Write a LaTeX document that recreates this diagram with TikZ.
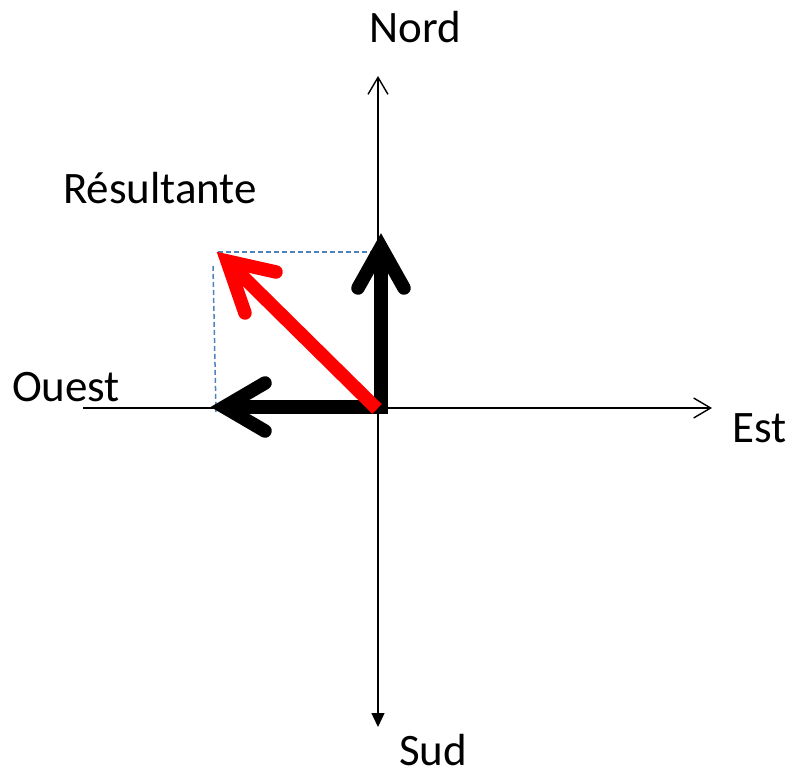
\documentclass[tikz,border=0pt]{standalone}
\usepackage{fontspec}
\setmainfont{Carlito}
\usetikzlibrary{arrows.meta}
\definecolor{dashblue}{RGB}{79,129,189}
\tikzset{
  axis/.style={line width=1.4pt},
  vec/.style={line width=13.5pt, line cap=round, line join=miter},
  lbl/.style={inner sep=0pt, anchor=center, font=\fontsize{45}{52}\selectfont},
  guide/.style={dashblue, line width=1.5pt, dash pattern=on 5pt off 3pt}
}
\begin{document}
\begin{tikzpicture}[x=1pt,y=-1pt]
\useasboundingbox (0,0) rectangle (807,778);
% axis end points
\coordinate (W) at (83,408);
\coordinate (E) at (712,408);
\coordinate (N) at (378,76);
\coordinate (S) at (378,727);
\coordinate (O) at (378,408);
% axes
\draw[axis, -{Straight Barb[length=17pt,width=20pt]}] (W) -- (E);
\draw[axis, -{Straight Barb[length=17pt,width=20pt]}] (S |- O) ++(0,5) coordinate (Sv) -- (N);
\draw[axis, -{Triangle[length=14pt,width=13pt]}] (Sv) -- (S);
% dashed guides
\coordinate (Rt) at (218,252);
\coordinate (Hd) at (392,252);
\coordinate (Va) at (213,266);
\coordinate (Vb) at (216,412);
\draw[guide] (Rt) -- (Hd);
\draw[guide] (Va) -- (Vb);
% black vectors
\coordinate (Nv) at (381,247);
\coordinate (Wv) at (224,407);
\coordinate (Cv) at (381,407);
\draw[vec, line cap=butt] (Wv) -- (Cv) -- (Nv);
\draw[vec] (358,288) -- (Nv) -- (404,288);
\draw[vec] (265,383) -- (Wv) -- (265,431);
% red vector
\coordinate (Ro) at (377,409);
\coordinate (Rv) at (227,261);
\draw[vec, red, line cap=butt] (Ro) -- (Rv);
\draw[vec, red] (276,272) -- (Rv) -- (245,313);
% labels
\node[lbl] (nord) at (415,27) {Nord};
\node[lbl] (sud) at (433,750) {Sud};
\node[lbl] (est) at (760,428) {Est};
\node[lbl] (ouest) at (66,387) {Ouest};
\node[lbl] (res) at (160,188) {Résultante};
\end{tikzpicture}
\end{document}
